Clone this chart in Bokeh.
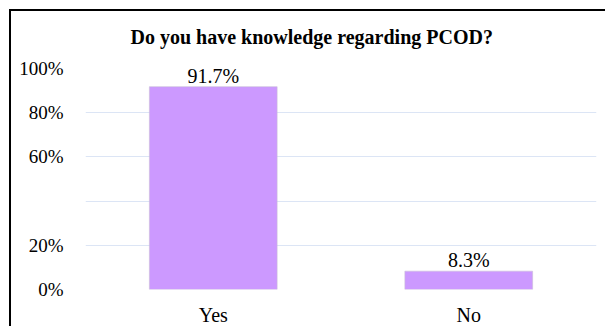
from bokeh.plotting import figure
from bokeh.models import ColumnDataSource, FixedTicker, PrintfTickFormatter, LabelSet, Range1d
from bokeh.embed import file_html
from bokeh.resources import INLINE

# ---- data ----
categories = ["Yes", "No"]
percentages = [91.7, 8.3]
pct_labels = ["91.7%", "8.3%"]
y_tick_values = [0, 20, 60, 80, 100]
grid_values = [0, 20, 40, 60, 80]

FONT = "Times"

source = ColumnDataSource(data=dict(cat=categories, pct=percentages, lab=pct_labels))

p = figure(
    x_range=categories,
    y_range=Range1d(0, 104),
    width=596,
    height=317,
    output_backend="svg",
    toolbar_location=None,
    min_border_left=74,
    min_border_right=11,
    min_border_top=48,
    min_border_bottom=33,
    margin=(9, 0, 0, 9),
    title="Do you have knowledge regarding PCOD?",
)
p.styles = {"border-left": "2px solid black", "border-top": "2px solid black"}

p.title.text_font = FONT
p.title.text_font_size = "20px"
p.title.text_font_style = "bold"
p.title.align = "left"
p.title.offset = 45
p.title.standoff = 24
p.title.text_color = "black"

p.vbar(x="cat", top="pct", width=0.5, source=source,
       fill_color="#cc99ff", line_color="#c9c0d6", line_width=0.6)

labels = LabelSet(x="cat", y="pct", text="lab", source=source,
                  text_align="center", text_baseline="bottom", y_offset=0,
                  text_font=FONT, text_font_size="20px", text_color="black")
p.add_layout(labels)

p.outline_line_color = None
p.background_fill_color = "white"
p.border_fill_color = "white"

p.xgrid.grid_line_color = None
p.ygrid.ticker = FixedTicker(ticks=grid_values)
p.ygrid.grid_line_color = "#dce5f5"
p.ygrid.grid_line_width = 1.2

p.yaxis.ticker = FixedTicker(ticks=y_tick_values)
p.yaxis.formatter = PrintfTickFormatter(format="%d%%")
p.yaxis.axis_line_color = None
p.yaxis.major_tick_line_color = None
p.yaxis.minor_tick_line_color = None
p.yaxis.major_label_standoff = 16
p.yaxis.major_label_text_font = FONT
p.yaxis.major_label_text_font_size = "19px"
p.yaxis.major_label_text_color = "black"

p.xaxis.axis_line_color = None
p.xaxis.major_tick_line_color = None
p.xaxis.minor_tick_line_color = None
p.xaxis.major_label_standoff = 8
p.xaxis.major_label_text_font = FONT
p.xaxis.major_label_text_font_size = "20px"
p.xaxis.major_label_text_color = "black"

p.x_range.range_padding = 0.0

open("out.html", "w").write(file_html(p, INLINE))
